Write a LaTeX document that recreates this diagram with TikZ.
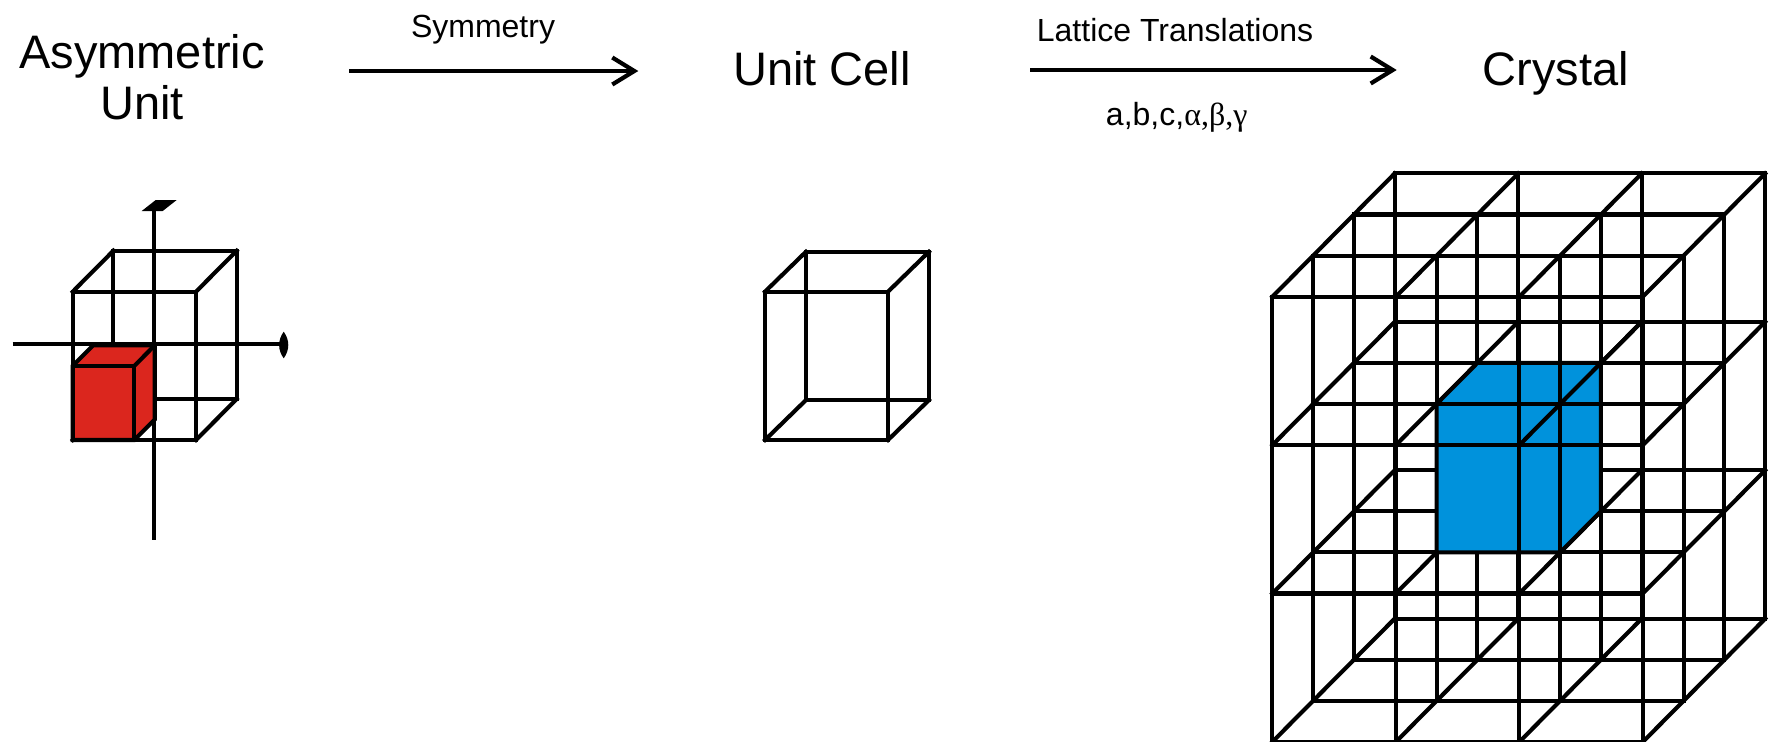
\documentclass[tikz,border=0pt]{standalone}
\usepackage{fontspec}
\setmainfont{Liberation Sans}
\newfontfamily\greekfont{Liberation Serif}
\usetikzlibrary{arrows.meta}
\definecolor{unitred}{RGB}{219,38,30}
\definecolor{cellblue}{RGB}{0,146,220}
\begin{document}
\begin{tikzpicture}[x=0.5pt,y=-0.5pt,
  edge/.style={line width=2.05pt, line cap=rect, line join=miter},
  axisline/.style={line width=2.05pt},
  title/.style={font=\fontsize{23.5pt}{25pt}\selectfont, anchor=base, inner sep=0pt},
  caption/.style={font=\fontsize{16pt}{18pt}\selectfont, anchor=base, inner sep=0pt},
  flow/.style={line width=2.1pt, -{Straight Barb[length=11pt,width=13.5pt]}},
]
\useasboundingbox (0,0) rectangle (1771,741);

% ---------- headings ----------
\node[title] (asymA) at (142,68.3) {Asymmetric};
\node[title] (asymB) at (142,119.3) {Unit};
\node[title] (cellT) at (822,85) {Unit Cell};
\node[title] (crysT) at (1556,85) {Crystal};

% ---------- operations ----------
\coordinate (symL) at (349.3,71);
\coordinate (symR) at (638.3,71);
\draw[flow] (symL) -- (symR);
\node[caption] (symT) at (483,37.3) {Symmetry};

\coordinate (latL) at (1030,70);
\coordinate (latR) at (1396.7,70);
\draw[flow] (latL) -- (latR);
\node[caption] (latT) at (1175,41.7) {Lattice Translations};
\node[caption] (latP) at (1176.7,125) {a,b,c,{\greekfont α,β,γ}};

% ---------- asymmetric unit with symmetry axes ----------
\coordinate (haxL) at (12.7,344.3);
\coordinate (hax2) at (280,344.3);
\coordinate (vaxT) at (154.3,210);
\coordinate (vaxB) at (154.3,540);

\begin{scope}[shift={(72.7,440)}, x={(61.65pt,0pt)}, y={(0pt,74.15pt)}, z={(20.35pt,20.5pt)}]
  % wire-frame cell
  \draw[edge] (0,0,0) -- (1,0,0) -- (1,1,0) -- (0,1,0) -- cycle;
  \draw[edge] (0,0,1) -- (1,0,1) -- (1,1,1) -- (0,1,1) -- cycle;
  \foreach \p/\q in {0/0,1/0,1/1,0/1}
    \draw[edge] (\p,\q,0) -- (\p,\q,1);
\end{scope}

% axes
\draw[axisline] (haxL) -- (hax2);
\draw[axisline] (vaxT) -- (vaxB);
% two-fold symbol (lens) and four-fold symbol
\fill (283.7,331.7) .. controls (289.8,340) and (289.8,350) .. (283.7,358.3)
                    .. controls (277.6,350) and (277.6,340) .. (283.7,331.7);
\fill (141.7,211) -- (162.7,211) -- (176.7,200) -- (155.7,200) -- cycle;

\begin{scope}[shift={(72.7,440)}, x={(61.65pt,0pt)}, y={(0pt,74.15pt)}, z={(20.35pt,20.5pt)}]
  % asymmetric unit: one octant of the cell
  \fill[unitred] (0,0,0) -- (0,0.5,0) -- (0,0.5,0.5) -- (0.5,0.5,0.5) -- (0.5,0,0.5) -- (0.5,0,0) -- cycle;
  \draw[edge] (0,0,0) -- (0,0.5,0) -- (0,0.5,0.5) -- (0.5,0.5,0.5) -- (0.5,0,0.5) -- (0.5,0,0) -- cycle;
  \draw[edge] (0,0.5,0) -- (0.5,0.5,0) -- (0.5,0,0);
  \draw[edge] (0.5,0.5,0) -- (0.5,0.5,0.5);
\end{scope}

% ---------- unit cell ----------
\begin{scope}[shift={(765,440)}, x={(61.5pt,0pt)}, y={(0pt,74.15pt)}, z={(20.5pt,20.0pt)}]
  \draw[edge] (0,0,0) -- (1,0,0) -- (1,1,0) -- (0,1,0) -- cycle;
  \draw[edge] (0,0,1) -- (1,0,1) -- (1,1,1) -- (0,1,1) -- cycle;
  \foreach \p/\q in {0/0,1/0,1/1,0/1}
    \draw[edge] (\p,\q,0) -- (\p,\q,1);
\end{scope}

% ---------- crystal: 3x3x3 lattice ----------
\begin{scope}[shift={(1272.3,741.9)}, x={(61.75pt,0pt)}, y={(0pt,74.2pt)}, z={(20.4pt,20.55pt)}]
  \foreach \k in {0,...,3}
    \foreach \t in {0,...,3} {
      \draw[edge] (\t,0,\k) -- (\t,3,\k);
      \draw[edge] (0,\t,\k) -- (3,\t,\k);
    }
  \foreach \i in {0,...,3}
    \foreach \j in {0,...,3}
      \draw[edge] (\i,\j,0) -- (\i,\j,3);
  % central cell, opaque
  \fill[cellblue] (1,1,1) -- (1,2,1) -- (1,2,2) -- (2,2,2) -- (2,1,2) -- (2,1,1) -- cycle;
  \draw[edge] (1,1,1) -- (1,2,1) -- (1,2,2) -- (2,2,2) -- (2,1,2) -- (2,1,1) -- cycle;
  % lattice lines lying in front of the central cell
  \draw[edge] (2,0,0) -- (2,3,0);
  \draw[edge] (0,2,0) -- (3,2,0);
  \draw[edge] (2,0,1) -- (2,3,1);
  \draw[edge] (0,2,1) -- (3,2,1);
  \draw[edge] (2,2,0) -- (2,2,3);
\end{scope}
\end{tikzpicture}
\end{document}
